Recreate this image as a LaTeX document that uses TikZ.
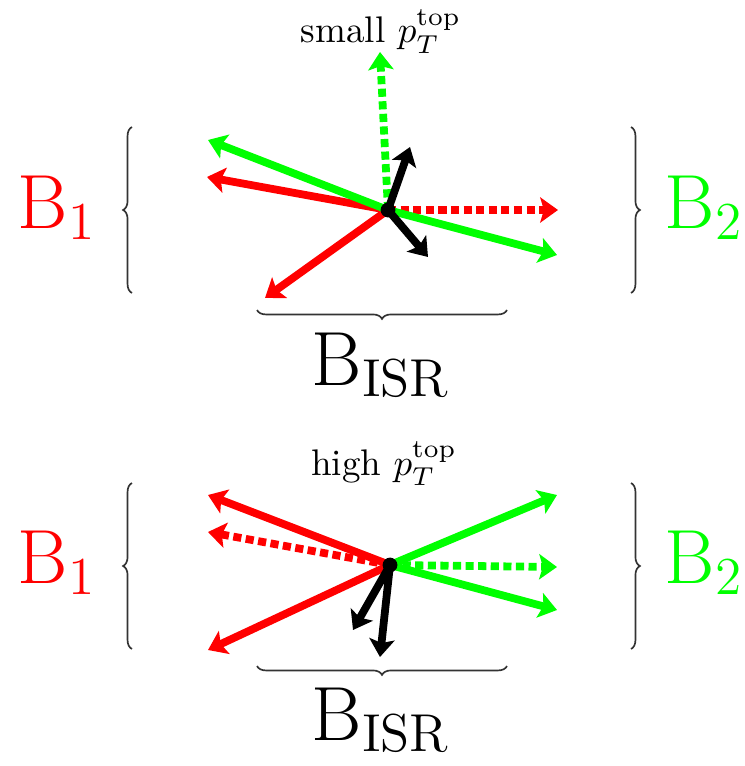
\documentclass[tikz,border=0pt]{standalone}
\usetikzlibrary{arrows.meta,decorations.pathreplacing}
\begin{document}
\begin{tikzpicture}[x=0.27pt,y=-0.27pt,
  vec/.style={line width=2.1pt,-{Stealth[length=4.8pt,width=6.8pt,inset=1pt]}},
  dsh/.style={vec,dash pattern=on 2.2pt off 1.2pt},
  brc/.style={decorate,decoration={brace,amplitude=2.4pt},line width=0.45pt,black!80},
  big/.style={font=\huge,inner sep=0pt,anchor=base},
  sml/.style={inner sep=0pt,anchor=base},
  hub/.style={circle,fill=black,inner sep=0pt,minimum size=4pt}]
\useasboundingbox (0,0) rectangle (745,766);

% ---------------- top panel ----------------
\coordinate (c1) at (388,210);
\coordinate (t1gu) at (380,52);
\coordinate (t1gl) at (208,140);
\coordinate (t1gr) at (557,255);
\coordinate (t1rl) at (207,177);
\coordinate (t1rd) at (265,298);
\coordinate (t1rr) at (558,210);
\coordinate (t1bu) at (410,147);
\coordinate (t1bd) at (428,257);

\draw[vec,red] (c1) -- (t1rl);
\draw[vec,red] (c1) -- (t1rd);
\draw[dsh,red] (c1) -- (t1rr);
\draw[dsh,green] (c1) -- (t1gu);
\draw[vec,green] (c1) -- (t1gl);
\draw[vec,green] (c1) -- (t1gr);
\draw[vec,black] (c1) -- (t1bu);
\draw[vec,black] (c1) -- (t1bd);
\node[hub] (h1) at (c1) {};

\node[sml] (s1) at (381,43) {small $p_T^{\mathrm{top}}$};
\node[big,anchor=base west,red] (b1a) at (17,228) {$\mathrm{B}_1$};
\node[big,anchor=base west,green] (b2a) at (664,228) {$\mathrm{B}_2$};
\node[big] (bia) at (381,385) {$\mathrm{B}_{\mathrm{ISR}}$};

\coordinate (lb1s) at (132,293);
\coordinate (lb1e) at (132,127);
\coordinate (rb1s) at (631,127);
\coordinate (rb1e) at (631,293);
\coordinate (hb1s) at (507,310);
\coordinate (hb1e) at (257,310);
\draw[brc] (lb1s) -- (lb1e);
\draw[brc] (rb1s) -- (rb1e);
\draw[brc] (hb1s) -- (hb1e);

% ---------------- bottom panel ----------------
\coordinate (c2) at (390,565);
\coordinate (t2ru) at (208,495);
\coordinate (t2rm) at (208,532);
\coordinate (t2rd) at (208,650);
\coordinate (t2gu) at (557,495);
\coordinate (t2gm) at (557,567);
\coordinate (t2gd) at (557,610);
\coordinate (t2b1) at (353,630);
\coordinate (t2b2) at (380,657);

\draw[vec,red] (c2) -- (t2ru);
\draw[dsh,red] (c2) -- (t2rm);
\draw[vec,red] (c2) -- (t2rd);
\draw[vec,green] (c2) -- (t2gu);
\draw[dsh,green] (c2) -- (t2gm);
\draw[vec,green] (c2) -- (t2gd);
\draw[vec,black] (c2) -- (t2b1);
\draw[vec,black] (c2) -- (t2b2);
\node[hub] (h2) at (c2) {};

\node[sml] (s2) at (384,475) {high $p_T^{\mathrm{top}}$};
\node[big,anchor=base west,red] (b1b) at (17,583) {$\mathrm{B}_1$};
\node[big,anchor=base west,green] (b2b) at (664,583) {$\mathrm{B}_2$};
\node[big] (bib) at (381,740) {$\mathrm{B}_{\mathrm{ISR}}$};

\coordinate (lb2s) at (132,649);
\coordinate (lb2e) at (132,483);
\coordinate (rb2s) at (631,483);
\coordinate (rb2e) at (631,649);
\coordinate (hb2s) at (507,666);
\coordinate (hb2e) at (257,666);
\draw[brc] (lb2s) -- (lb2e);
\draw[brc] (rb2s) -- (rb2e);
\draw[brc] (hb2s) -- (hb2e);
\end{tikzpicture}
\end{document}
